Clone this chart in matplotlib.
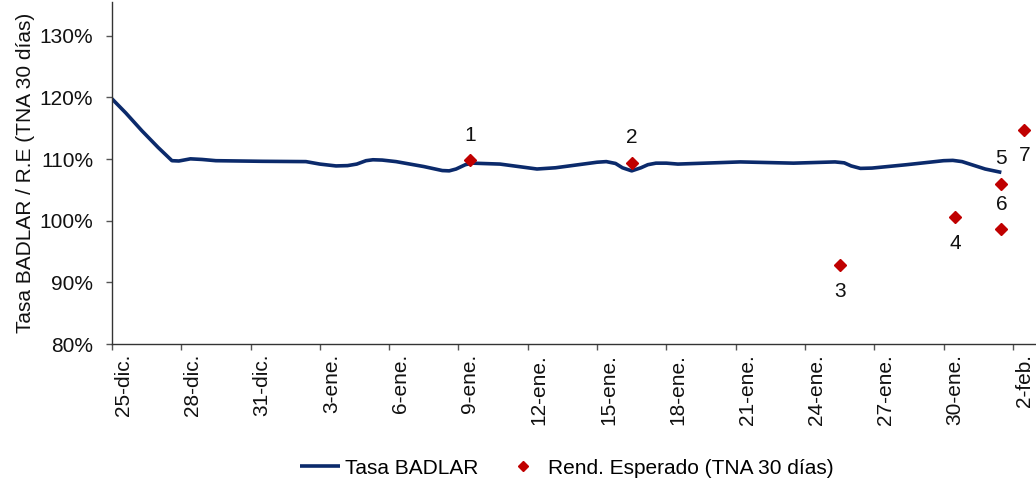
import numpy as np
import matplotlib
matplotlib.use('Agg')
import matplotlib.pyplot as plt
from matplotlib.ticker import FuncFormatter, FixedLocator, NullFormatter

plt.rcParams['font.family'] = ['Liberation Sans', 'DejaVu Sans']

# dias desde el 25-dic
badlar_dias = [0, 0.6, 1.3, 2.0, 2.6, 2.9, 3.4, 3.9, 4.5, 6.5, 8.4, 9.0, 9.7, 10.2,
               10.6, 11.0, 11.3, 11.7, 12.3, 13.5, 14.3, 14.6, 14.9, 15.3, 15.6,
               16.8, 17.6, 18.4, 19.2, 20.0, 21.0, 21.4, 21.8, 22.1, 22.5, 22.9,
               23.2, 23.55, 24.0, 24.5, 27.2, 29.5, 31.3, 31.7, 32.0, 32.4, 32.9,
               34.4, 36.0, 36.4, 36.8, 37.3, 37.8, 38.5]
badlar_tasa = [119.8, 117.5, 114.6, 111.9, 109.75, 109.7, 110.05, 109.95, 109.75,
               109.65, 109.6, 109.2, 108.9, 108.95, 109.2, 109.75, 109.9, 109.85,
               109.6, 108.8, 108.15, 108.1, 108.4, 109.1, 109.35, 109.2, 108.8,
               108.4, 108.6, 109.0, 109.5, 109.6, 109.3, 108.6, 108.1, 108.6, 109.1,
               109.35, 109.35, 109.2, 109.55, 109.35, 109.55, 109.4, 108.9, 108.5,
               108.55, 109.1, 109.75, 109.8, 109.6, 109.0, 108.4, 107.85]

rend_dias = [15.5, 22.5, 31.5, 36.5, 38.5, 38.5, 39.5]
rend_tasa = [109.8, 109.4, 92.8, 100.6, 106.0, 98.6, 114.8]
rend_etiq = ['1', '2', '3', '4', '5', '6', '7']
etiq_arriba = [True, True, False, False, True, True, False]

tick_dias = list(range(0, 40, 3))
tick_labels = ['25-dic.', '28-dic.', '31-dic.', '3-ene.', '6-ene.', '9-ene.', '12-ene.',
               '15-ene.', '18-ene.', '21-ene.', '24-ene.', '27-ene.', '30-ene.', '2-feb.']

fs = 15
txt = '#111111'

fig = plt.figure(figsize=(10.36, 4.86), dpi=100)
ax = fig.add_axes([0.108, 0.292, 0.892, 0.704])

ax.plot(badlar_dias, badlar_tasa, color='#0B2A6B', lw=2.6, solid_joinstyle='round',
        solid_capstyle='butt', label='Tasa BADLAR', zorder=2)
ax.plot(rend_dias, rend_tasa, ls='none', marker='D', ms=6.5, color='#C00000',
        label='Rend. Esperado (TNA 30 días)', zorder=3)

for x, y, t, up in zip(rend_dias, rend_tasa, rend_etiq, etiq_arriba):
    dy = 18 if up else -19
    ax.annotate(t, (x, y), xytext=(0, dy), textcoords='offset points',
                ha='center', va='center', fontsize=fs, color=txt)

ax.set_xlim(0, 40)
ax.set_ylim(80, 135.5)
ax.set_yticks([80, 90, 100, 110, 120, 130])
ax.yaxis.set_major_formatter(FuncFormatter(lambda v, p: f'{v:.0f}%'))

# marcas en el dia, etiquetas centradas en el dia
ax.xaxis.set_major_locator(FixedLocator(tick_dias))
ax.xaxis.set_major_formatter(NullFormatter())
ax.xaxis.set_minor_locator(FixedLocator([d + 0.5 for d in tick_dias]))
ax.set_xticklabels(tick_labels, minor=True, rotation=90, va='top', ha='center')

for s in ['top', 'right']:
    ax.spines[s].set_visible(False)
for s in ['left', 'bottom']:
    ax.spines[s].set_color('#333333')
    ax.spines[s].set_linewidth(1.0)
ax.tick_params(axis='both', which='major', direction='out', length=4.5, width=1.0,
               color='#555555', labelsize=fs, labelcolor=txt)
ax.tick_params(axis='x', which='minor', length=0, labelsize=fs, labelcolor=txt, pad=7)
ax.tick_params(axis='y', pad=9)

ax.set_ylabel('Tasa BADLAR / R.E (TNA 30 días)', fontsize=15, color=txt, labelpad=3)

leg = fig.legend(loc='center left', bbox_to_anchor=(300 / 1036, 1 - 468 / 486), ncol=2,
                 frameon=False, fontsize=fs, handlelength=1.9, handletextpad=0.25,
                 columnspacing=1.2, borderpad=0, borderaxespad=0, markerscale=0.85)

fig.savefig('out.png', dpi=100)
